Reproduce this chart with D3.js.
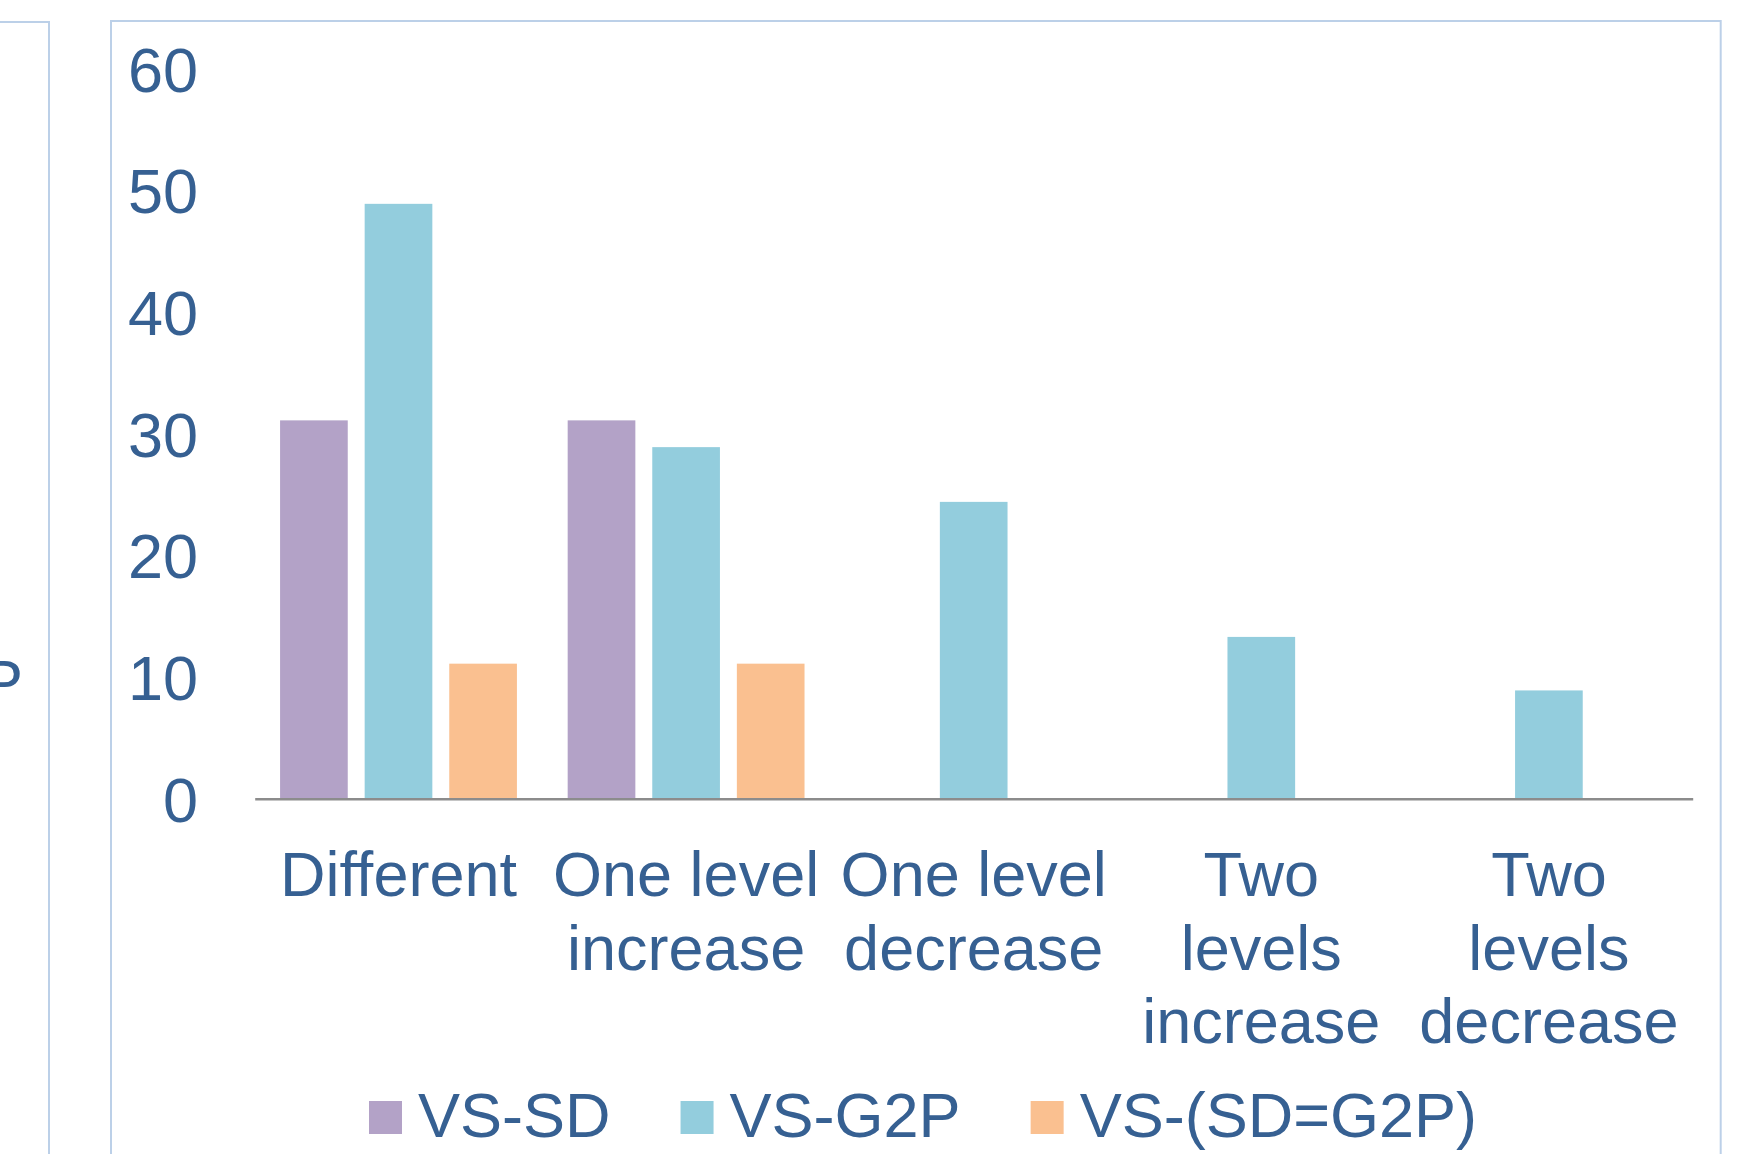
<!DOCTYPE html>
<html>
<head>
<meta charset="utf-8">
<script src="https://cdn.jsdelivr.net/npm/d3@7"></script>
<style>
  html, body { margin: 0; padding: 0; background: #ffffff; }
  svg { display: block; }
  text { font-family: "Liberation Sans", Arial, Helvetica, sans-serif; fill: #366092; }
</style>
</head>
<body>
<svg id="chart" width="1752" height="1154"></svg>
<script>
// Share of cases (%) in each change category, per comparison
const categories = [
  ["Different"],
  ["One level", "increase"],
  ["One level", "decrease"],
  ["Two", "levels", "increase"],
  ["Two", "levels", "decrease"]
];
const seriesNames = ["VS-SD", "VS-G2P", "VS-(SD=G2P)"];
const seriesColors = ["#b3a2c7", "#93cddd", "#fac090"];
const vsSD     = [31.1, 31.1, null, null, null];
const vsG2P    = [48.9, 28.9, 24.4, 13.3, 8.9];
const vsSDeqG2P = [11.1, 11.1, null, null, null];
const yTicks = [0, 10, 20, 30, 40, 50, 60];

const seriesValues = [vsSD, vsG2P, vsSDeqG2P];
const catKeys = categories.map(c => c.join(" "));

const svg = d3.select("#chart");
const fontSize = 63;

// panel frames
svg.append("rect")
  .attr("x", -10).attr("y", 22).attr("width", 59).attr("height", 1200)
  .attr("fill", "none").attr("stroke", "#bcd0e8").attr("stroke-width", 2);
svg.append("rect")
  .attr("x", 111).attr("y", 21).attr("width", 1609.7).attr("height", 1200)
  .attr("fill", "none").attr("stroke", "#bcd0e8").attr("stroke-width", 2);

// tail of the neighbouring panel's label
svg.append("text")
  .attr("x", 23).attr("y", 704)
  .attr("text-anchor", "end")
  .style("font-size", fontSize + "px")
  .text("P");

const plotLeft = 254.7, plotRight = 1692.7;
const y = d3.scaleLinear().domain([0, 60]).range([798.7, 68.8]);

const x0 = d3.scaleBand().domain(catKeys).range([plotLeft, plotRight]).padding(0);
const x1 = d3.scaleBand().domain(seriesNames).range([0, x0.bandwidth()])
  .paddingInner(0.2).paddingOuter(0.3);

// y axis labels
const yAxis = d3.axisLeft(y).tickValues(yTicks).tickSize(0).tickPadding(0)
  .tickFormat(d3.format("d"));
const gy = svg.append("g").attr("transform", "translate(198,0)").call(yAxis);
gy.select(".domain").remove();
gy.selectAll("text")
  .attr("font-family", null)
  .style("font-size", fontSize + "px")
  .attr("dy", "0.355em");

// bars
const groups = svg.append("g").selectAll("g")
  .data(catKeys)
  .join("g")
  .attr("transform", d => `translate(${x0(d)},0)`);

groups.selectAll("rect")
  .data((d, i) => seriesNames.map((s, j) => ({ s, v: seriesValues[j][i], c: seriesColors[j] }))
    .filter(e => e.v != null))
  .join("rect")
  .attr("x", e => x1(e.s))
  .attr("width", x1.bandwidth())
  .attr("y", e => y(e.v))
  .attr("height", e => y(0) - y(e.v))
  .attr("fill", e => e.c);

// category axis line
const xAxis = d3.axisBottom(x0).tickSize(0).tickSizeOuter(0).tickFormat("");
const gx = svg.append("g").attr("transform", `translate(0,${y(0)})`).call(xAxis);
gx.select(".domain").attr("stroke", "#8c8c8c").attr("stroke-width", 2.5);

// category labels (multi-line)
const lineGap = 73.5;
const labels = svg.append("g").selectAll("text")
  .data(categories)
  .join("text")
  .attr("text-anchor", "middle")
  .style("font-size", fontSize + "px")
  .attr("transform", (d, i) => `translate(${x0(catKeys[i]) + x0.bandwidth() / 2},896)`);
labels.selectAll("tspan")
  .data(d => d)
  .join("tspan")
  .attr("x", 0)
  .attr("y", (d, i) => i * lineGap)
  .text(d => d);

// legend
const legend = svg.append("g");
let lx = 369;
seriesNames.forEach((name, j) => {
  legend.append("rect")
    .attr("x", lx).attr("y", 1101).attr("width", 33).attr("height", 33)
    .attr("fill", seriesColors[j]);
  const t = legend.append("text")
    .attr("x", lx + 49).attr("y", 1137)
    .style("font-size", fontSize + "px")
    .text(name);
  lx += 49 + t.node().getComputedTextLength() + 70;
});
</script>
</body>
</html>
